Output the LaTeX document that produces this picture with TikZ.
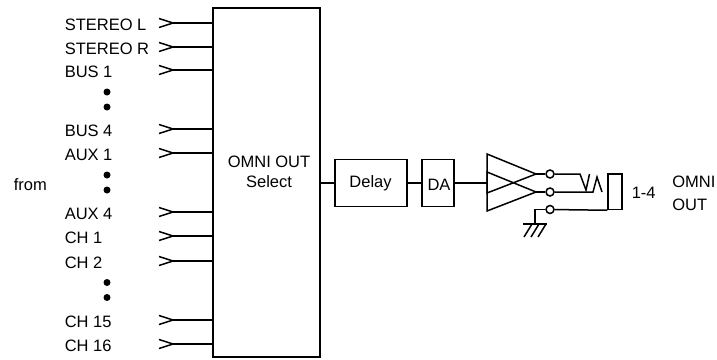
\documentclass[tikz,border=0pt]{standalone}
\usepackage{fontspec}
\setmainfont{Liberation Sans}
\newcommand{\lblfont}{\fontsize{16.5}{20}\selectfont}
\tikzset{
	blockbox/.style={draw,line width=1.5pt,minimum height=47,inner sep=0pt,font=\lblfont},
	inlabel/.style={anchor=west,inner sep=0pt,font=\lblfont},
	sidelabel/.style={inner sep=0pt,font=\lblfont,align=left},
	jackpin/.style={circle,draw,line width=1.5pt,fill=white,minimum size=8,inner sep=0pt},
}
\begin{document}
\begin{tikzpicture}[x=1pt,y=-1pt,line width=1.5pt,line join=miter]
	\useasboundingbox (0,0) rectangle (717,359);
	% main selector
	\node[draw,line width=1.7pt,minimum width=107.5,minimum height=348.5,inner sep=0pt] (sel) at (266.5,182.5) {};
	\node[sidelabel,align=center] (sellabel) at (269,172) {OMNI OUT\\Select};
	% inputs
	\foreach \ypos/\txt/\idx in {23/STEREO L/a,47/STEREO R/b,70/BUS 1/c,129/BUS 4/d,153/AUX 1/e,212/AUX 4/f,236/CH 1/g,261/CH 2/h,320/CH 15/i,344/CH 16/j}{
		\node[inlabel] (in\idx) at (64,\ypos+2) {\txt};
		\coordinate (tip\idx) at (173,\ypos);
		\coordinate (end\idx) at (212,\ypos);
		\draw (tip\idx) -- (end\idx);
		\draw (159,\ypos-4.5) -- (tip\idx) -- (159,\ypos+4.5);
	}
	% dots
	\foreach \ypos in {92,107,175,190,282.5,297.5}
		\fill (107,\ypos) circle (3.5);
	\node[sidelabel,anchor=west] (from) at (13,185) {from};
	% chain
	\node[blockbox,minimum width=72] (delay) at (371,183) {};
	\node[sidelabel] (delaytxt) at (370.5,183) {Delay};
	\node[blockbox,minimum width=32] (da) at (438,183) {};
	\node[sidelabel] (datxt) at (439,185) {DA};
	\draw (sel.east |- delay) -- (delay);
	\draw (delay) -- (da);
	\coordinate (ampin) at (487,183);
	\draw (da) -- (ampin);
	% balanced amp
	\draw (487,154) -- (536,174) -- (487,193) -- cycle;
	\draw (487,172) -- (536,192) -- (487,211) -- cycle;
	\node[jackpin] (hot) at (550,174) {};
	\node[jackpin] (cold) at (550,192) {};
	\node[jackpin] (gnd) at (550,209.5) {};
	\draw (536,174) -- (hot);
	\draw (536,192) -- (cold);
	% jack
	\node[draw,line width=1.5pt,minimum width=14,minimum height=35.5,inner sep=0pt] (jack) at (615,191.75) {};
	\draw (hot) -- (580,174) -- (586,190) -- (589.5,174);
	\draw (cold) -- (593,192) -- (597,177) -- (602,192);
	\draw (gnd) -- (jack.south west);
	% ground
	\coordinate (gndbar) at (535,224);
	\draw (gnd) -- (535,209.5) -- (gndbar);
	\draw (523,224) -- (547,224);
	\foreach \xpos in {532,539,546}
		\draw (\xpos,224) -- (\xpos-8,237);
	% labels
	\node[sidelabel,anchor=west] (ch) at (631,193) {1-4};
	\node[sidelabel,anchor=west] (omni) at (671.5,193.5) {OMNI\\[3pt]OUT};
\end{tikzpicture}
\end{document}
